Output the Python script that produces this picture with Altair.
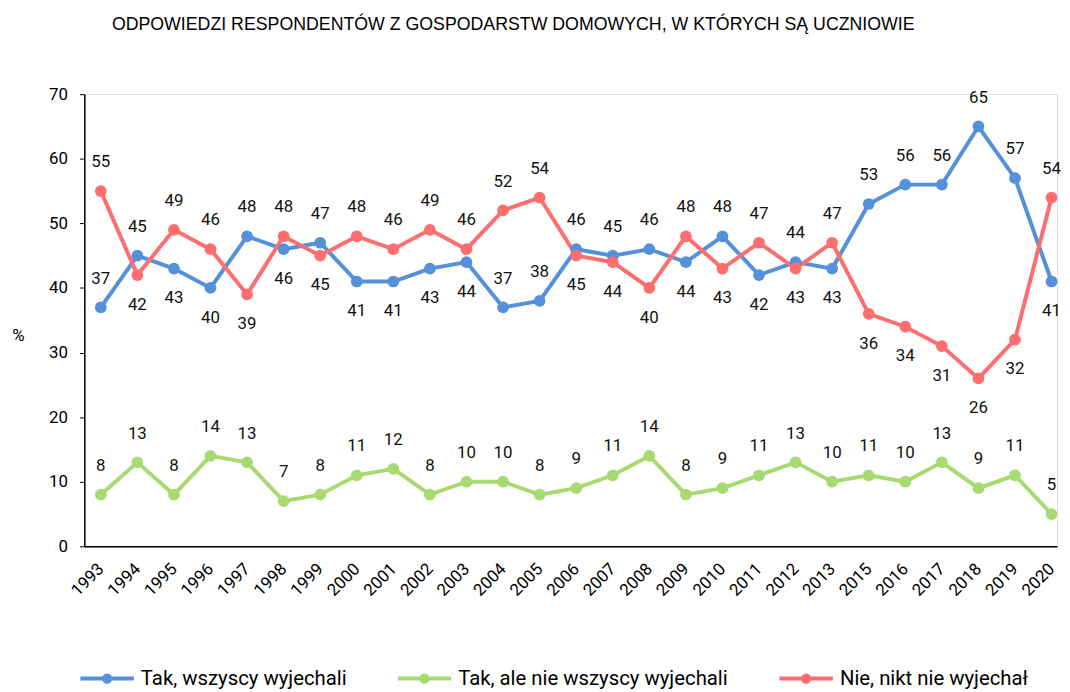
import altair as alt
import pandas as pd

years = ["1993", "1994", "1995", "1996", "1997", "1998", "1999", "2000", "2001", "2002",
         "2003", "2004", "2005", "2006", "2007", "2008", "2009", "2010", "2011", "2012",
         "2013", "2015", "2016", "2017", "2018", "2019", "2020"]

series_names = ["Tak, wszyscy wyjechali", "Tak, ale nie wszyscy wyjechali", "Nie, nikt nie wyjechał"]
series_colors = ["#5590DB", "#A8DA72", "#FF6E6E"]

all_left = [37, 45, 43, 40, 48, 46, 47, 41, 41, 43, 44, 37, 38, 46, 45, 46, 44, 48, 42, 44,
            43, 53, 56, 56, 65, 57, 41]
some_left = [8, 13, 8, 14, 13, 7, 8, 11, 12, 8, 10, 10, 8, 9, 11, 14, 8, 9, 11, 13,
             10, 11, 10, 13, 9, 11, 5]
none_left = [55, 42, 49, 46, 39, 48, 45, 48, 46, 49, 46, 52, 54, 45, 44, 40, 48, 43, 47, 43,
             47, 36, 34, 31, 26, 32, 54]

# label placement: 1 = above the point, -1 = below
all_side = [1, 1, -1, -1, 1, -1, 1, -1, -1, -1, -1, 1, 1, 1, 1, 1, -1, 1, -1, 1,
            -1, 1, 1, 1, 1, 1, -1]
some_side = [1] * 27
none_side = [1, -1, 1, 1, -1, 1, -1, 1, 1, 1, 1, 1, 1, -1, -1, -1, 1, -1, 1, -1,
             1, -1, -1, -1, -1, -1, 1]

rows = []
for name, vals, sides in zip(series_names, [all_left, some_left, none_left],
                             [all_side, some_side, none_side]):
    for y, v, s in zip(years, vals, sides):
        rows.append({"year": y, "series": name, "value": v, "side": s})
df = pd.DataFrame(rows)

FONT = "Roboto"

legend_path = "M-1,0L1,0M0.12,0A0.12,0.12,0,1,1,-0.12,0A0.12,0.12,0,1,1,0.12,0"

base = alt.Chart(df).encode(
    x=alt.X("year:N", sort=years,
            scale=alt.Scale(type="point", padding=0.3, align=0.75),
            axis=alt.Axis(title=None, labelAngle=-45, labelAlign="right", labelBaseline="middle",
                          labelFont=FONT, labelFontSize=17, labelColor="#000000",
                          labelPadding=20, ticks=False, domainColor="#000000", domainWidth=1.5,
                          grid=False, labelOverlap=False)),
    y=alt.Y("value:Q",
            scale=alt.Scale(domain=[0, 70], nice=False, zero=True),
            axis=alt.Axis(title="%", titleAngle=0, titleX=-67, titleY=243,
                          titleAlign="center", titleBaseline="middle",
                          titleFont=FONT, titleFontSize=17, titleFontWeight="normal",
                          titleColor="#000000",
                          values=[0, 10, 20, 30, 40, 50, 60, 70],
                          labelFont=FONT, labelFontSize=17, labelColor="#000000",
                          labelPadding=12, tickSize=5, tickColor="#000000",
                          domainColor="#000000", domainWidth=1.5, grid=False)),
    color=alt.Color("series:N",
                    scale=alt.Scale(domain=series_names, range=series_colors),
                    sort=series_names,
                    legend=alt.Legend(title=None, orient="none", direction="horizontal",
                                      legendX=-6, legendY=560,
                                      symbolType=legend_path, symbolSize=2916,
                                      symbolStrokeWidth=4,
                                      labelFont=FONT, labelFontSize=20.5, labelColor="#000000",
                                      labelLimit=0, labelOffset=5, columnPadding=43,
                                      padding=0)),
)

lines = base.mark_line(strokeWidth=4,
                       point=alt.OverlayMarkDef(filled=True, size=140, opacity=1))

above = base.transform_filter("datum.side > 0").mark_text(
    dy=-29, font=FONT, fontSize=17, baseline="middle", align="center"
).encode(text=alt.Text("value:Q"), color=alt.value("#111111"))

below = base.transform_filter("datum.side < 0").mark_text(
    dy=30, font=FONT, fontSize=17, baseline="middle", align="center"
).encode(text=alt.Text("value:Q"), color=alt.value("#111111"))

chart = alt.layer(lines, above, below).properties(
    width=981,
    height=456,
    padding={"left": 3, "top": 5, "right": 0, "bottom": 0},
    title=alt.TitleParams(
        "ODPOWIEDZI RESPONDENTÓW Z GOSPODARSTW DOMOWYCH, W KTÓRYCH SĄ UCZNIOWIE",
        font="Liberation Sans", fontSize=17.9, fontWeight="normal", color="#000000",
        anchor="start", dx=101, offset=52),
).configure_view(stroke=None).configure(background="white")

chart.save("out.html", embed_options={"renderer": "svg", "actions": False})
